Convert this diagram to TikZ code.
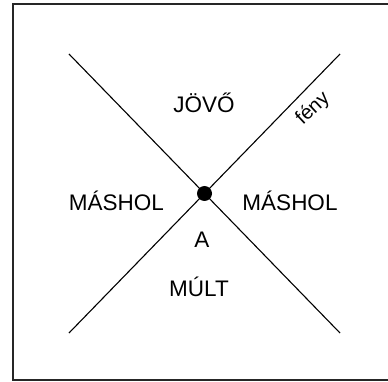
\documentclass[tikz,border=0pt]{standalone}
\usepackage{fontspec}
\setmainfont{Liberation Sans}
\begin{document}
\begin{tikzpicture}[x=1pt,y=-1pt,
  lbl/.style={inner sep=0pt, font=\fontsize{22.5}{26}\selectfont},
  ray/.style={line width=1.1pt, black},
  frame/.style={line width=1.6pt, black!85}]
\useasboundingbox (0,0) rectangle (388,382);
\draw[frame] (390,4) -- (13,4) -- (13,380) -- (390,380);
\coordinate (ul) at (69,54);
\coordinate (ur) at (340,54);
\coordinate (ll) at (69,333);
\coordinate (lr) at (340,333);
\draw[ray] (ul) -- (lr);
\draw[ray] (ur) -- (ll);
\node[circle, fill=black, inner sep=0pt, minimum size=15pt] (ev) at (204.5,193.5) {};
\node[lbl] (jovo) at (204,103) {JÖVŐ};
\node[lbl] (m1) at (116.5,201) {MÁSHOL};
\node[lbl] (m2) at (290,201) {MÁSHOL};
\node[lbl] (a) at (202,240) {A};
\node[lbl] (mult) at (199,287) {MÚLT};
\node[lbl, rotate=43, font=\fontsize{20}{24}\selectfont] (feny) at (313,109) {fény};
\end{tikzpicture}
\end{document}
